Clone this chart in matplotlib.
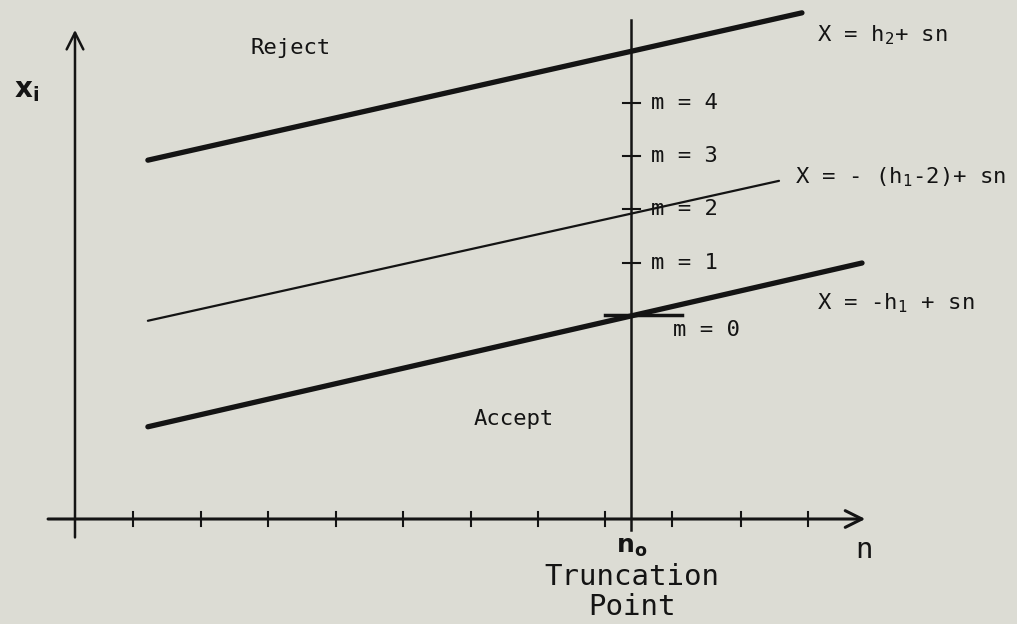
import numpy as np
import matplotlib.pyplot as plt

plt.rcParams['font.family'] = ['DejaVu Sans Mono', 'DejaVu Sans']
plt.rcParams['mathtext.fontset'] = 'custom'
plt.rcParams['mathtext.rm'] = 'DejaVu Sans Mono'
plt.rcParams['mathtext.bf'] = 'DejaVu Sans:bold'

# sequential test diagram, values in diagram units (1 unit = one tick step)
tick_n = [0.86, 1.86, 2.86, 3.86, 4.86, 5.86, 6.86, 7.85, 8.85, 9.86, 10.86]
n0 = 8.24
m_levels = [3.85, 4.83, 5.85, 6.85, 7.85]
m_labels = ['m = 0', 'm = 1', 'm = 2', 'm = 3', 'm = 4']

upper_n = [1.08, 10.77]
upper_x = [6.77, 9.55]
middle_n = [1.08, 10.43]
middle_x = [3.74, 6.38]
lower_n = [1.08, 11.66]
lower_x = [1.74, 4.83]

bg = '#dcdcd4'
ink = '#141414'

fig = plt.figure(figsize=(10.17, 6.24), dpi=100, facecolor=bg)
ax = fig.add_axes([0, 0, 1, 1])
ax.set_facecolor(bg)
ax.set_xlim(-1.111, 13.956)
ax.set_ylim(-1.981, 9.792)
ax.axis('off')

# axes with open arrow heads
ax.annotate('', xy=(11.75, 0), xytext=(-0.44, 0),
            arrowprops=dict(arrowstyle='->', lw=2.2, color=ink, mutation_scale=30))
ax.annotate('', xy=(0, 9.28), xytext=(0, -0.40),
            arrowprops=dict(arrowstyle='->', lw=1.8, color=ink, mutation_scale=30))

for t in tick_n:
    ax.plot([t, t], [-0.13, 0.13], color=ink, lw=1.5)

# truncation line
ax.plot([n0, n0], [-0.21, 9.42], color=ink, lw=1.8)

for lv in m_levels[1:]:
    ax.plot([8.12, 8.37], [lv, lv], color=ink, lw=1.5)
ax.plot([7.85, 8.99], [m_levels[0], m_levels[0]], color=ink, lw=2.5)

# boundary lines
ax.plot(upper_n, upper_x, color=ink, lw=3.8, solid_capstyle='round')
ax.plot(middle_n, middle_x, color=ink, lw=1.6, solid_capstyle='round')
ax.plot(lower_n, lower_x, color=ink, lw=3.8, solid_capstyle='round')

fs = 16
for lv, lab in zip(m_levels[1:], m_labels[1:]):
    ax.text(8.53, lv, lab, fontsize=fs, color=ink, ha='left', va='center')
ax.text(8.86, 3.57, m_labels[0], fontsize=fs, color=ink, ha='left', va='center')

ax.text(11.0, 9.13, r'X = h$_2$+ sn', fontsize=fs, color=ink, va='center')
ax.text(10.67, 6.45, r'X = - (h$_1$-2)+ sn', fontsize=fs, color=ink, va='center')
ax.text(11.0, 4.08, r'X = -h$_1$ + sn', fontsize=fs, color=ink, va='center')

ax.text(3.2, 8.89, 'Reject', fontsize=fs, color=ink, ha='center', va='center')
ax.text(6.5, 1.89, 'Accept', fontsize=fs, color=ink, ha='center', va='center')
ax.text(-0.72, 8.1, r'$\mathbf{x}_\mathbf{i}$', fontsize=20, color=ink, ha='center', va='center')

ax.text(n0, -0.53, r'$\mathbf{n_o}$', fontsize=18, color=ink, ha='center', va='center')
ax.text(11.69, -0.58, 'n', fontsize=21, color=ink, ha='center', va='center')
ax.text(n0 + 0.01, -1.09, 'Truncation', fontsize=21, color=ink, ha='center', va='center')
ax.text(n0 + 0.01, -1.66, 'Point', fontsize=21, color=ink, ha='center', va='center')

fig.savefig('out.png', dpi=100, facecolor=bg)
